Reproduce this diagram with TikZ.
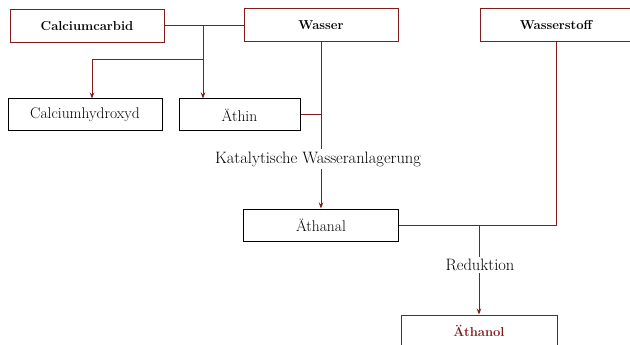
\documentclass[tikz,border=0pt]{standalone}
\usepackage{tikz}
\usetikzlibrary{arrows.meta}
\usepackage{xcolor}
\definecolor{braunrot}{RGB}{130,28,28}

\begin{document}
\begin{tikzpicture}[x=1pt,y=-1pt,
  stoff/.style={draw=braunrot,line width=1pt,minimum height=33pt,inner sep=0pt,
    font=\fontsize{13}{16}\selectfont\bfseries},
  produkt/.style={draw=black,line width=1pt,minimum height=32pt,inner sep=0pt,
    font=\fontsize{15.5}{18}\selectfont},
  weg/.style={draw=braunrot,line width=1pt},
  pfeil/.style={weg,-{Stealth[length=6pt,width=4.5pt]}},
  schritt/.style={font=\fontsize{16.5}{19}\selectfont,fill=white,inner sep=2pt}]
\useasboundingbox (0,0) rectangle (630,345);
% Ausgangsstoffe
\node[stoff,minimum width=154pt] (carbid) at (87,26.5) {Calciumcarbid};
\node[stoff,minimum width=154pt] (wasser) at (321,25.5) {Wasser};
\node[stoff,minimum width=152pt] (wstoff) at (556,25.5) {Wasserstoff};
% Zwischenprodukte
\node[produkt,minimum width=154pt] (hydroxyd) at (85,115) {Calciumhydroxyd};
\node[produkt,minimum width=121pt] (aethin) at (239.5,115) {Äthin};
\node[produkt,minimum width=155pt] (aethanal) at (321,225) {Äthanal};
% Endprodukt
\node[stoff,minimum width=156pt,minimum height=32pt,text=braunrot] (aethanol) at (479,331) {Äthanol};
% Reaktion Calciumcarbid + Wasser
\coordinate (j1) at (203,26);
\coordinate (j2) at (203,60);
\draw[weg] (carbid.east |- j1) -- (wasser.west |- j1);
\draw[weg] (j1) -- (j2) -- (j2 -| 92,0);
\draw[pfeil] (j2 -| 92,0) -- (hydroxyd.north -| 92,0);
\draw[pfeil] (j2) -- (aethin.north -| j2);
% Wasseranlagerung
\node[schritt] (kat) at (318,159) {Katalytische Wasseranlagerung};
\draw[weg] (aethin.east) -- (aethin.east -| wasser.south);
\draw[weg] (wasser.south) -- (kat.north -| wasser.south);
\draw[pfeil] (kat.south -| wasser.south) -- (aethanal.north);
% Reduktion
\node[schritt] (red) at (480,265) {Reduktion};
\coordinate (j3) at (aethanal.east -| aethanol.north);
\draw[weg] (wstoff.south) -- (wstoff.south |- aethanal.east) -- (aethanal.east);
\draw[weg] (j3) -- (red.north -| j3);
\draw[pfeil] (red.south -| j3) -- (aethanol.north);
\end{tikzpicture}
\end{document}
